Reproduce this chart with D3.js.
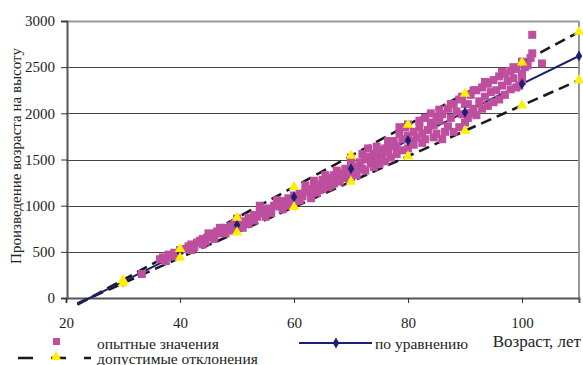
<!DOCTYPE html>
<html><head><meta charset="utf-8">
<script src="https://cdn.jsdelivr.net/npm/d3@7"></script>
<style>body{margin:0;background:#fff}svg{display:block}text{font-family:"Liberation Serif","Times New Roman",serif}</style>
</head><body><svg id="c" width="583" height="365"></svg>
<script>
// ---- data ----
const xTicks = [20, 40, 60, 80, 100];
const yTicks = [0, 500, 1000, 1500, 2000, 2500, 3000];
const eqAge = [22, 30, 40, 50, 60, 70, 80, 90, 100, 110];
const eqValue = [-65, 177, 484, 790, 1094, 1400, 1705, 2012, 2318, 2621];
const upperValue = [-72, 195, 532, 869, 1203, 1540, 1876, 2213, 2550, 2883];
const lowerValue = [-59, 159, 436, 711, 985, 1260, 1535, 1811, 2086, 2359];
const expAge = [33.3, 36.5, 37, 37.5, 38, 38.5, 39, 39.5, 40,
  41, 41.5, 42, 42.5, 43, 43.5, 44, 44.5, 45, 45.5, 46, 46.5, 47, 47.5, 48, 48.5, 49, 49.5, 50, 50.5,
  51, 51.5, 52, 52.5, 53, 53.5, 54, 54.5, 55, 55.5, 56, 56.5, 57, 57.5, 58, 58.5, 59, 59.5, 60,
  60.5, 61, 61.5, 62, 62.5, 63, 63.5, 64, 64.5, 65, 65.5, 66, 66.5, 67, 67.5, 68, 68.5, 69, 69.5, 70, 70.5,
  71, 71.5, 72, 72.5, 73, 73.5, 74, 74.5, 75, 75.5, 76, 76.5, 77, 77.5, 78, 78.5, 79, 79.5, 80, 80.5,
  81, 81.5, 82, 82.5, 83, 83.5, 84, 84.5, 85, 85.5, 86, 86.5, 87, 87.5, 88, 88.5, 89, 89.5, 90,
  90.5, 91, 91.5, 92, 92.5, 93, 93.5, 94, 94.5, 95, 95.5, 96, 96.5, 97, 97.5, 98, 98.5, 99, 99.5, 100,
  100.5, 101, 101.5, 101.8, 101.8, 103.5,
  42, 44, 45, 46, 47, 48, 49, 50,
  51, 52, 53, 54, 55, 56, 57, 58, 59,
  60, 61, 62, 63, 63.5, 64, 65, 65.5, 66, 67, 67.5, 68, 69, 70, 70,
  71, 72, 72.5, 73, 74, 74.5, 75, 76, 76.5, 77, 78, 78.5, 79, 80, 80,
  81, 82, 82.5, 83, 84, 84.5, 85, 85.5, 86, 87, 87.5, 88, 89, 89.5, 90,
  90.5, 91, 91.5, 92, 93, 93.5, 94, 95, 96, 96.5, 97, 98, 98.5, 99, 100, 100];
const expValue = [260, 420, 440, 400, 470, 450, 490, 460, 520,
  530, 560, 580, 550, 600, 620, 640, 610, 660, 690, 680, 720, 700, 740, 760, 730, 780, 800, 820, 770,
  830, 800, 870, 850, 900, 880, 950, 920, 940, 970, 960, 1000, 1010, 990, 1050, 1030, 1080, 1060, 1110,
  1050, 1130, 1100, 1150, 1180, 1140, 1200, 1230, 1170, 1280, 1250, 1300, 1220, 1330, 1290, 1350, 1310, 1400, 1380, 1450, 1360,
  1420, 1470, 1400, 1500, 1530, 1460, 1560, 1500, 1600, 1540, 1620, 1580, 1660, 1700, 1640, 1780, 1720, 1850, 1760, 1690,
  1800, 1740, 1850, 1780, 1950, 1820, 1900, 1870, 1960, 1920, 1990, 1800, 2050, 1950, 2100, 2020, 2150, 1990, 2100,
  2100, 2200, 2050, 2250, 2130, 2280, 2180, 2320, 2230, 2360, 2250, 2400, 2300, 2430, 2350, 2460, 2380, 2480, 2300, 2430,
  2500, 2520, 2600, 2850, 2650, 2540,
  520, 580, 700, 640, 760, 700, 740, 860,
  760, 800, 840, 1000, 880, 920, 1060, 960, 1000,
  1020, 1060, 1220, 1080, 1270, 1140, 1180, 1330, 1200, 1240, 1380, 1260, 1300, 1520, 1310,
  1330, 1560, 1380, 1620, 1420, 1640, 1450, 1480, 1700, 1520, 1560, 1850, 1600, 1620, 1880,
  1660, 1920, 1680, 1720, 2000, 1740, 1780, 2040, 1720, 1860, 2100, 1800, 1850, 2180, 1900,
  1950, 2000, 2250, 1980, 2050, 2340, 2080, 2120, 2150, 2450, 2200, 2260, 2500, 2280, 2350, 2560];

// ---- chart ----
const svg = d3.select("#c");
const x = d3.scaleLinear().domain([20, 110]).range([66, 579]);
const y = d3.scaleLinear().domain([0, 3000]).range([298, 21]);
const pink = "#BE4F9E", yellow = "#FFF000", navy = "#1E1F6E";

// gridlines
svg.append("g").selectAll("line").data(yTicks.filter(d => d > 0)).join("line")
  .attr("x1", 66).attr("x2", 579).attr("y1", d => Math.round(y(d)) + 0.5).attr("y2", d => Math.round(y(d)) + 0.5)
  .attr("stroke", d => d === 3000 ? "#999" : "#444").attr("stroke-width", d => d === 3000 ? 2 : 1);
svg.append("line").attr("x1", 579).attr("x2", 579).attr("y1", 21).attr("y2", 298).attr("stroke", "#999").attr("stroke-width", 2);

// axes
const yAxis = d3.axisLeft(y).tickValues(yTicks).tickFormat(d3.format("d")).tickSize(6).tickPadding(6);
const gy = svg.append("g").attr("transform", "translate(67,0)").call(yAxis);
const xAxis = d3.axisBottom(x).tickValues(xTicks).tickFormat(d3.format("d")).tickSize(5).tickPadding(14);
const gx = svg.append("g").attr("transform", "translate(0,298)").call(xAxis);
[gy, gx].forEach(g => {
  g.attr("font-family", null);
  g.select(".domain").attr("stroke", "#555").attr("stroke-width", 2);
  g.selectAll(".tick line").attr("stroke", "#333");
  g.selectAll("text").attr("font-size", 15).attr("fill", "#222");
});

// lines
const pts = a => eqAge.map((d, i) => [d, a[i]]);
const line = d3.line().x(d => x(d[0])).y(d => y(d[1]));
svg.append("path").attr("d", line(pts(upperValue))).attr("fill", "none").attr("stroke", "#1a1a1a").attr("stroke-width", 2.6).attr("stroke-dasharray", "11,6");
svg.append("path").attr("d", line(pts(lowerValue))).attr("fill", "none").attr("stroke", "#1a1a1a").attr("stroke-width", 2.6).attr("stroke-dasharray", "11,6");
svg.append("path").attr("d", line(pts(eqValue))).attr("fill", "none").attr("stroke", navy).attr("stroke-width", 2);

// scatter
const sq = 8;
svg.append("g").selectAll("rect").data(expAge.map((d, i) => [d, expValue[i]])).join("rect")
  .attr("x", d => x(d[0]) - sq / 2).attr("y", d => y(d[1]) - sq / 2).attr("width", sq).attr("height", sq).attr("fill", pink);

// markers
const triangle = d3.symbol().type(d3.symbolTriangle).size(48);
const diamond = d3.symbol().type(d3.symbolDiamond).size(36);
const vis = eqAge.map((d, i) => i).filter(i => eqAge[i] >= 30);
svg.append("g").selectAll("path").data(vis).join("path")
  .attr("d", diamond).attr("transform", i => `translate(${x(eqAge[i])},${y(eqValue[i])})`).attr("fill", navy);
svg.append("g").selectAll("path").data(vis.flatMap(i => [[eqAge[i], upperValue[i]], [eqAge[i], lowerValue[i]]])).join("path")
  .attr("d", triangle).attr("transform", d => `translate(${x(d[0])},${y(d[1])})`).attr("fill", yellow);

// titles
svg.append("text").attr("transform", "translate(21,156) rotate(-90)").attr("text-anchor", "middle")
  .attr("font-size", 15).attr("fill", "#222").text("Произведение возраста на высоту");
svg.append("text").attr("x", 581).attr("y", 347).attr("text-anchor", "end").attr("font-size", 17).attr("fill", "#222").text("Возраст, лет");

// legend
const lg = svg.append("g").attr("font-size", 15.5).attr("fill", "#222");
lg.append("rect").attr("x", 53).attr("y", 338).attr("width", 7).attr("height", 7).attr("fill", pink);
lg.append("text").attr("x", 97).attr("y", 349).text("опытные значения");
lg.append("line").attr("x1", 18).attr("x2", 91).attr("y1", 358).attr("y2", 358).attr("stroke", "#1a1a1a").attr("stroke-width", 2.6).attr("stroke-dasharray", "15,18");
lg.append("path").attr("d", triangle).attr("transform", "translate(56,357)").attr("fill", yellow);
lg.append("text").attr("x", 97).attr("y", 364).text("допустимые отклонения");
lg.append("line").attr("x1", 299).attr("x2", 372).attr("y1", 343).attr("y2", 343).attr("stroke", navy).attr("stroke-width", 2);
lg.append("path").attr("d", diamond).attr("transform", "translate(336,343)").attr("fill", navy);
lg.append("text").attr("x", 375).attr("y", 349).text("по уравнению");
</script></body></html>
